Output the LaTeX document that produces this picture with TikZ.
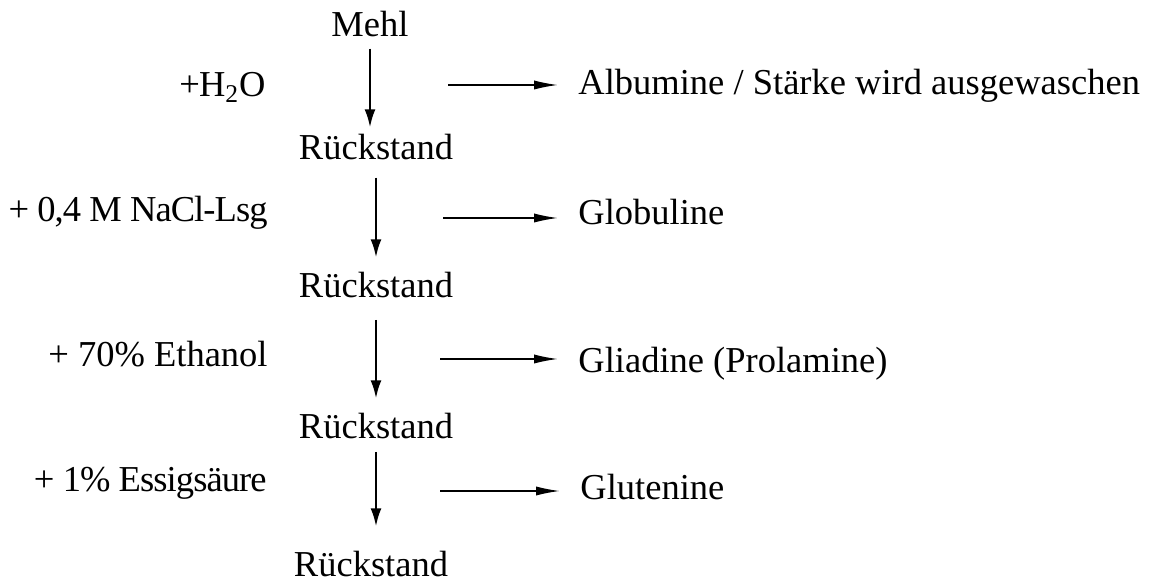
\documentclass[tikz,border=0pt]{standalone}
\usepackage{fontspec}
\setmainfont{Liberation Serif}
\usetikzlibrary{arrows.meta}
\begin{document}
\begin{tikzpicture}[x=0.5pt, y=-0.5pt,
    lab/.style={font=\fontsize{18.25}{22}\selectfont, inner sep=0pt},
    tight/.style={font=\fontsize{18.25}{22}\selectfont\addfontfeature{LetterSpace=-2.5}},
    down/.style={-{Latex[length=9pt, width=5.5pt]}, line width=1.1pt},
    side/.style={-{Latex[length=12pt, width=4.6pt]}, line width=0.8pt, shorten >=10pt}]
    \useasboundingbox (0,0) rectangle (1154,581);
    \node[lab, anchor=base] (mehl) at (370,37) {Mehl};
    \node[lab, anchor=base] (r1) at (376,160) {Rückstand};
    \node[lab, anchor=base] (r2) at (376,298) {Rückstand};
    \node[lab, anchor=base] (r3) at (376,439) {Rückstand};
    \node[lab, anchor=base] (r4) at (371,576) {Rückstand};
    \node[lab, tight, anchor=base east] (wasser) at (266,97) {+H\textsubscript{2}O};
    \node[lab, tight, anchor=base east] (salz) at (268,222) {+ 0,4 M NaCl-Lsg};
    \node[lab, anchor=base east] (ethanol) at (268,367) {+ 70\% Ethanol};
    \node[lab, tight, anchor=base east] (essig) at (267,492) {+ 1\% Essigsäure};
    \node[lab, anchor=base west] (alb) at (578,95) {Albumine / Stärke wird ausgewaschen};
    \node[lab, anchor=base west] (glob) at (578,225) {Globuline};
    \node[lab, anchor=base west] (glia) at (578,373) {Gliadine (Prolamine)};
    \node[lab, anchor=base west] (glut) at (580,500) {Glutenine};
    \coordinate (h1) at (448,85);
    \coordinate (h2) at (443,218);
    \coordinate (h3) at (440,359);
    \coordinate (h4) at (440,491);
    \draw[down, shorten <=5.5pt, shorten >=3.5pt] (mehl.south) -- (mehl.south |- r1.north);
    \draw[down, shorten <=8.5pt, shorten >=7.5pt] (r1.south) -- (r1.south |- r2.north);
    \draw[down, shorten <=10.5pt, shorten >=7.5pt] (r2.south) -- (r2.south |- r3.north);
    \draw[down, shorten <=6pt, shorten >=12pt] (r3.south) -- (r3.south |- r4.north);
    \draw[side] (h1) -- (h1 -| alb.west);
    \draw[side] (h2) -- (h2 -| glob.west);
    \draw[side] (h3) -- (h3 -| glia.west);
    \draw[side] (h4) -- (h4 -| glut.west);
\end{tikzpicture}
\end{document}
